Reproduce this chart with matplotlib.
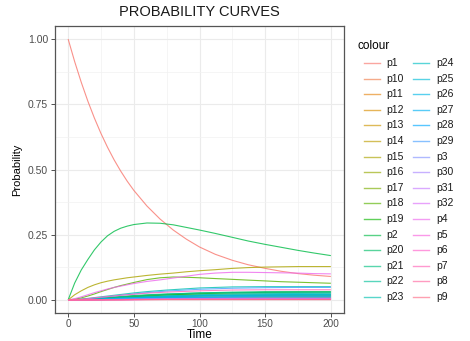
import numpy as np
import matplotlib
matplotlib.use("Agg")
import matplotlib.pyplot as plt
from matplotlib.lines import Line2D

# ---------------- data ----------------
# fine time grid for the large curves
times_fine = [0, 5, 10, 15, 20, 25, 30, 35, 40, 45, 50, 60, 70, 80, 90, 100,
              112, 125, 137, 150, 162, 175, 187, 200]
# coarse time grid for the small curves
times = [0, 5, 10, 15, 20, 30, 40, 50, 60, 75, 100, 125, 150, 175, 200]

p1  = [1.0, 0.913, 0.834, 0.762, 0.697, 0.638, 0.585, 0.537, 0.494, 0.455, 0.42,
       0.36, 0.31, 0.268, 0.233, 0.203, 0.175, 0.152, 0.135, 0.121, 0.11, 0.101,
       0.095, 0.09]
p2  = [0, 0.065, 0.115, 0.155, 0.192, 0.222, 0.246, 0.263, 0.275, 0.283, 0.289,
       0.295, 0.294, 0.288, 0.278, 0.268, 0.255, 0.24, 0.226, 0.213, 0.202,
       0.19, 0.18, 0.17]
p4  = [0, 0.005, 0.012, 0.02, 0.028, 0.035, 0.042, 0.048, 0.053, 0.058, 0.063,
       0.071, 0.077, 0.084, 0.091, 0.098, 0.103, 0.106, 0.106, 0.105, 0.104,
       0.103, 0.101, 0.1]
p15 = [0, 0.02, 0.035, 0.048, 0.058, 0.066, 0.072, 0.077, 0.081, 0.085, 0.088,
       0.094, 0.099, 0.103, 0.108, 0.112, 0.116, 0.121, 0.124, 0.126, 0.127,
       0.128, 0.128, 0.128]
p18 = [0, 0.003, 0.008, 0.015, 0.023, 0.032, 0.04, 0.048, 0.055, 0.061, 0.067,
       0.078, 0.085, 0.088, 0.087, 0.085, 0.082, 0.079, 0.076, 0.073, 0.07,
       0.068, 0.066, 0.064]

p3  = [0, 0, 0, 0.001, 0.001, 0.002, 0.003, 0.004, 0.004, 0.005, 0.006, 0.007, 0.007, 0.007, 0.007]
p5  = [0, 0, 0, 0, 0, 0.001, 0.001, 0.001, 0.002, 0.002, 0.002, 0.002, 0.002, 0.002, 0.002]
p6  = [0, 0, 0, 0, 0.001, 0.001, 0.001, 0.002, 0.002, 0.002, 0.003, 0.003, 0.003, 0.003, 0.003]
p7  = [0, 0.001, 0.003, 0.005, 0.008, 0.013, 0.018, 0.022, 0.026, 0.03, 0.035, 0.038, 0.039, 0.039, 0.039]
p8  = [0, 0, 0, 0, 0, 0.001, 0.001, 0.001, 0.001, 0.002, 0.002, 0.002, 0.002, 0.002, 0.002]
p9  = [0, 0, 0, 0, 0, 0, 0, 0.001, 0.001, 0.001, 0.001, 0.001, 0.001, 0.001, 0.001]
p10 = [0, 0, 0, 0.001, 0.001, 0.002, 0.002, 0.003, 0.003, 0.004, 0.004, 0.005, 0.005, 0.005, 0.005]
p11 = [0, 0, 0, 0, 0.001, 0.001, 0.002, 0.002, 0.003, 0.003, 0.004, 0.004, 0.004, 0.004, 0.004]
p12 = [0, 0, 0.001, 0.001, 0.002, 0.003, 0.004, 0.005, 0.006, 0.007, 0.008, 0.009, 0.009, 0.009, 0.009]
p13 = [0, 0, 0.001, 0.002, 0.003, 0.004, 0.006, 0.007, 0.008, 0.010, 0.011, 0.012, 0.012, 0.012, 0.012]
p14 = [0, 0.001, 0.002, 0.003, 0.004, 0.007, 0.009, 0.011, 0.013, 0.015, 0.017, 0.018, 0.018, 0.018, 0.018]
p16 = [0, 0.001, 0.002, 0.004, 0.006, 0.009, 0.012, 0.015, 0.017, 0.02, 0.022, 0.023, 0.023, 0.022, 0.022]
p17 = [0, 0, 0.001, 0.002, 0.003, 0.005, 0.007, 0.009, 0.011, 0.013, 0.015, 0.016, 0.016, 0.016, 0.016]
p19 = [0, 0, 0.001, 0.002, 0.003, 0.006, 0.009, 0.012, 0.015, 0.019, 0.024, 0.027, 0.029, 0.030, 0.030]
p20 = [0, 0, 0.001, 0.002, 0.004, 0.007, 0.011, 0.015, 0.018, 0.022, 0.027, 0.030, 0.032, 0.032, 0.032]
p21 = [0, 0, 0.001, 0.003, 0.005, 0.009, 0.013, 0.017, 0.02, 0.023, 0.027, 0.028, 0.028, 0.028, 0.027]
p22 = [0, 0, 0.001, 0.001, 0.002, 0.004, 0.006, 0.008, 0.01, 0.013, 0.016, 0.018, 0.019, 0.02, 0.02]
p23 = [0, 0.001, 0.003, 0.006, 0.009, 0.015, 0.021, 0.027, 0.032, 0.038, 0.046, 0.05, 0.051, 0.051, 0.051]
p24 = [0, 0, 0.001, 0.002, 0.003, 0.005, 0.008, 0.010, 0.013, 0.016, 0.02, 0.023, 0.024, 0.025, 0.026]
p25 = [0, 0, 0.001, 0.001, 0.002, 0.004, 0.007, 0.009, 0.011, 0.014, 0.017, 0.019, 0.02, 0.021, 0.021]
p26 = [0, 0, 0, 0.001, 0.002, 0.003, 0.005, 0.007, 0.009, 0.012, 0.015, 0.017, 0.018, 0.018, 0.018]
p27 = [0, 0, 0, 0.001, 0.001, 0.003, 0.004, 0.006, 0.007, 0.009, 0.011, 0.013, 0.014, 0.014, 0.014]
p28 = [0, 0, 0, 0.001, 0.001, 0.002, 0.003, 0.004, 0.005, 0.007, 0.009, 0.010, 0.011, 0.011, 0.011]
p29 = [0, 0.001, 0.002, 0.004, 0.007, 0.012, 0.018, 0.023, 0.028, 0.034, 0.041, 0.045, 0.047, 0.048, 0.048]
p30 = [0, 0, 0, 0, 0.001, 0.001, 0.002, 0.002, 0.003, 0.003, 0.004, 0.005, 0.005, 0.005, 0.005]
p31 = [0, 0, 0, 0, 0, 0.001, 0.001, 0.002, 0.002, 0.003, 0.003, 0.004, 0.004, 0.004, 0.004]
p32 = [0, 0, 0, 0, 0, 0.001, 0.001, 0.001, 0.002, 0.002, 0.002, 0.003, 0.003, 0.003, 0.003]

series = {
    "p1": p1, "p10": p10, "p11": p11, "p12": p12, "p13": p13, "p14": p14,
    "p15": p15, "p16": p16, "p17": p17, "p18": p18, "p19": p19, "p2": p2,
    "p20": p20, "p21": p21, "p22": p22, "p23": p23, "p24": p24, "p25": p25,
    "p26": p26, "p27": p27, "p28": p28, "p29": p29, "p3": p3, "p30": p30,
    "p31": p31, "p32": p32, "p4": p4, "p5": p5, "p6": p6, "p7": p7,
    "p8": p8, "p9": p9,
}
labels = list(series.keys())

x_ticks = [0, 50, 100, 150, 200]
y_ticks = [0.0, 0.25, 0.5, 0.75, 1.0]
y_ticklabels = ["0.00", "0.25", "0.50", "0.75", "1.00"]


# ---------------- ggplot hue palette ----------------
def hcl_to_rgb(h, c=100.0, l=65.0):
    hr = np.deg2rad(h)
    U = c * np.cos(hr)
    V = c * np.sin(hr)
    Xn, Yn, Zn = 95.047, 100.0, 108.883
    Y = Yn * ((l + 16) / 116) ** 3 if l > 8 else Yn * l / 903.3
    un = 4 * Xn / (Xn + 15 * Yn + 3 * Zn)
    vn = 9 * Yn / (Xn + 15 * Yn + 3 * Zn)
    u = U / (13 * l) + un
    v = V / (13 * l) + vn
    X = 9.0 * Y * u / (4 * v)
    Z = -X / 3 - 5 * Y + 3 * Y / v
    X, Y, Z = X / 100, Y / 100, Z / 100
    r = 3.240479 * X - 1.537150 * Y - 0.498535 * Z
    g = -0.969256 * X + 1.875992 * Y + 0.041556 * Z
    b = 0.055648 * X - 0.204043 * Y + 1.057311 * Z

    def gam(t):
        t = min(max(t, 0.0), 1.0)
        return 12.92 * t if t <= 0.0031308 else 1.055 * t ** (1 / 2.4) - 0.055
    return (gam(r), gam(g), gam(b))


n = len(labels)
hues = np.linspace(15, 375, n + 1)[:-1]
colors = [hcl_to_rgb(h % 360) for h in hues]
big = {"p1", "p2", "p4", "p15", "p18"}

# ---------------- figure ----------------
W, H = 470, 341
fig = plt.figure(figsize=(W / 100, H / 100), dpi=100)
plt.rcParams["font.family"] = ["Liberation Sans", "DejaVu Sans"]

ax = fig.add_axes([55 / W, 1 - 313 / H, (344 - 55) / W, (313 - 26) / H])
ax.set_facecolor("white")

for lab, col in zip(labels, colors):
    tt = times_fine if lab in big else times
    ax.plot(tt, series[lab], color=col, lw=0.8, alpha=0.8, solid_capstyle="butt")

ax.set_xlim(-10, 210)
ax.set_ylim(-0.05, 1.05)
ax.set_xticks(x_ticks)
ax.set_xticklabels([str(v) for v in x_ticks])
ax.set_yticks(y_ticks)
ax.set_yticklabels(y_ticklabels)
ax.set_xticks([25, 75, 125, 175], minor=True)
ax.set_yticks([0.125, 0.375, 0.625, 0.875], minor=True)
ax.grid(which="major", color="#EBEBEB", lw=0.8)
ax.grid(which="minor", color="#F2F2F2", lw=0.5)
ax.set_axisbelow(True)
ax.tick_params(which="major", length=3, width=0.6, color="#333333",
               labelsize=7.5, labelcolor="#4D4D4D", pad=2)
ax.tick_params(axis="x", which="major", pad=1.5, labelsize=7.2)
ax.tick_params(which="minor", length=0)
for s in ax.spines.values():
    s.set_color("#555555")
    s.set_linewidth(0.9)

ax.set_title("PROBABILITY CURVES", fontsize=10.5, color="#1A1A1A", pad=7)
ax.set_ylabel("Probability", fontsize=8, color="black", labelpad=4)
fig.text(200 / W, 1 - 335 / H, "Time", fontsize=8.5, color="black",
         ha="center", va="center")

# ---------------- legend (ggplot style, two columns) ----------------
fig.text(357 / W, 1 - 46 / H, "colour", fontsize=8.5, color="black",
         ha="left", va="center")
row0, pitch = 63, 15.6
nrows = 16
for i, (lab, col) in enumerate(zip(labels, colors)):
    c = i // nrows
    r = i % nrows
    y = 1 - (row0 + r * pitch) / H
    kx0 = (364 if c == 0 else 413) / W
    kx1 = (380 if c == 0 else 429) / W
    tx = (386 if c == 0 else 436) / W
    fig.add_artist(Line2D([kx0, kx1], [y, y], transform=fig.transFigure,
                          color=col, lw=1.0, alpha=0.65))
    fig.text(tx, y, lab, fontsize=7.5, color="#1A1A1A", ha="left", va="center")

fig.savefig("out.png", dpi=100, facecolor="white")
